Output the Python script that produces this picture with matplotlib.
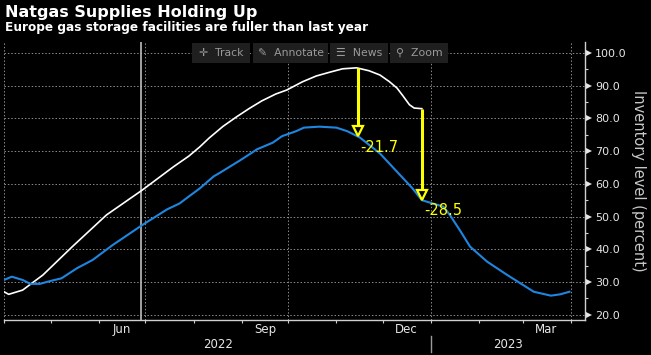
import matplotlib
matplotlib.use("Agg")
import matplotlib.pyplot as plt
import matplotlib.dates as mdates
import matplotlib.transforms as mtrans
from matplotlib.patches import Rectangle
import numpy as np

# ---------------- data ----------------
title = "Natgas Supplies Holding Up"
subtitle = "Europe gas storage facilities are fuller than last year"
y_label = "Inventory level (percent)"

white_dates = ["2022-04-01", "2022-04-04", "2022-04-13", "2022-04-26", "2022-05-15",
               "2022-06-06", "2022-06-29", "2022-07-19", "2022-07-29", "2022-08-05",
               "2022-08-11", "2022-08-20", "2022-08-29", "2022-09-06", "2022-09-14",
               "2022-09-23", "2022-09-30", "2022-10-10", "2022-10-19", "2022-10-28",
               "2022-11-05", "2022-11-14", "2022-11-22", "2022-11-29", "2022-12-05",
               "2022-12-10", "2022-12-14", "2022-12-18", "2022-12-21", "2022-12-26"]
white_values = [27.0, 26.2, 27.5, 32.1, 40.8,
                50.5, 58.1, 65.2, 68.5, 71.3,
                74.0, 77.6, 80.6, 83.1, 85.4,
                87.5, 88.7, 91.2, 93.0, 94.2,
                95.2, 95.5, 94.6, 93.3, 91.3,
                89.3, 86.8, 84.2, 83.2, 83.0]

blue_dates = ["2022-04-01", "2022-04-06", "2022-04-13", "2022-04-18", "2022-04-24",
              "2022-05-01", "2022-05-08", "2022-05-18", "2022-05-28", "2022-06-10",
              "2022-06-29", "2022-07-15", "2022-07-23", "2022-07-30", "2022-08-05",
              "2022-08-14", "2022-08-18", "2022-08-31", "2022-09-11", "2022-09-21",
              "2022-09-27", "2022-10-06", "2022-10-11", "2022-10-21", "2022-11-01",
              "2022-11-08", "2022-11-16", "2022-11-29", "2022-12-10", "2022-12-20",
              "2022-12-26", "2023-01-02", "2023-01-09", "2023-01-13", "2023-01-20",
              "2023-01-26", "2023-02-06", "2023-02-19", "2023-03-08", "2023-03-19",
              "2023-03-25", "2023-03-31"]
blue_values = [30.6, 31.6, 30.6, 29.4, 29.4,
               30.3, 31.1, 34.2, 36.7, 41.3,
               47.4, 52.2, 54.0, 56.5, 58.6,
               62.3, 63.4, 67.2, 70.6, 72.6,
               74.6, 76.1, 77.2, 77.5, 77.2,
               76.1, 74.2, 69.3, 63.7, 58.6,
               55.0, 54.0, 53.0, 50.5, 45.4,
               40.8, 36.2, 32.1, 27.0, 25.8,
               26.2, 27.0]

annot_dates = ["2022-11-15", "2022-12-26"]
annot_labels = ["-21.7", "-28.5"]

cursor_date = "2022-06-28"
x_start, x_end = "2022-04-01", "2023-04-10"
grid_dates = ["2022-04-01", "2022-07-01", "2022-10-01", "2023-01-01", "2023-04-01"]
y_ticks = [20, 30, 40, 50, 60, 70, 80, 90, 100]
y_minor = [25, 35, 45, 55, 65, 75, 85, 95]
month_label_dates = ["2022-06-16", "2022-09-16", "2022-12-16", "2023-03-16"]
month_labels = ["Jun", "Sep", "Dec", "Mar"]
year_labels = ["2022", "2023"]
year_break = "2023-01-01"
toolbar_items = ["\u271B  Track", "\u270E  Annotate", "\u2630  News", "\u26B2  Zoom"]

# ---------------- style ----------------
BG = "#000000"
WHITE = "#ffffff"
BLUE = "#1f86e0"
YELLOW = "#ffff00"
GRID = "#8c8c8c"
TXT = "#e6e6e6"

plt.rcParams["font.family"] = ["DejaVu Sans"]

W, H = 651, 355
fig = plt.figure(figsize=(W / 100, H / 100), dpi=100, facecolor=BG)
ax = fig.add_axes([4 / W, 35 / H, 581 / W, 278 / H], facecolor=BG)

wx = mdates.datestr2num(white_dates)
bx = mdates.datestr2num(blue_dates)
x0, x1 = mdates.datestr2num([x_start, x_end])

ax.set_xlim(x0, x1)
ax.set_ylim(18.35, 103.4)

# grid
for v in y_ticks:
    ax.axhline(v, color=GRID, lw=0.7, ls=(0, (1.5, 2.0)), zorder=1)
for d in mdates.datestr2num(grid_dates):
    ax.axvline(d, color=GRID, lw=0.7, ls=(0, (1.5, 2.0)), zorder=1)

# cursor line
ax.axvline(mdates.datestr2num(cursor_date), color="#bdbdbd", lw=1.2, zorder=2)

# series
ax.plot(wx, white_values, color=WHITE, lw=1.2, zorder=3)
ax.plot(bx, blue_values, color=BLUE, lw=1.5, zorder=3)

# annotations (arrows from white to blue)
ms = 7.5
ax_d = mdates.datestr2num(annot_dates)
for d, lab in zip(ax_d, annot_labels):
    yw = np.interp(d, wx, white_values)
    yb = np.interp(d, bx, blue_values)
    tr_head = mtrans.offset_copy(ax.transData, fig=fig, x=0, y=ms / 2, units="points")
    y_top_disp = ax.transData.transform((d, yb))[1] + ms * 100 / 72
    y_top = ax.transData.inverted().transform((0, y_top_disp))[1]
    ax.plot([d, d], [yw, y_top], color=YELLOW, lw=2.2, solid_capstyle="butt", zorder=5)
    ax.plot([d], [yb], marker="v", ms=ms, mfc=BG, mec=YELLOW, mew=1.6,
            transform=tr_head, zorder=6, clip_on=False)
    ax.annotate(lab, xy=(d, yb), xytext=(1.5, -7.5), textcoords="offset points",
                color=YELLOW, fontsize=10.5, ha="left", va="center", zorder=7)

# spines
for s in ["left", "top"]:
    ax.spines[s].set_visible(False)
for s in ["bottom", "right"]:
    ax.spines[s].set_color("#d0d0d0")
    ax.spines[s].set_linewidth(1.0)

# x ticks: month boundaries, labels mid-month
ax.xaxis.set_major_locator(mdates.MonthLocator())
ax.xaxis.set_major_formatter(plt.NullFormatter())
ax.tick_params(axis="x", which="major", direction="out", length=2.5, width=0.8,
               color="#d0d0d0")
ax.set_xticks(mdates.datestr2num(month_label_dates), minor=True)
ax.set_xticklabels(month_labels, minor=True)
ax.tick_params(axis="x", which="minor", length=0, pad=2.3, labelsize=8.5,
               labelcolor=TXT)

# year labels & separator
yb_pos = mdates.datestr2num(year_break)
trx = mtrans.blended_transform_factory(ax.transData, fig.transFigure)
ax.text((x0 + yb_pos) / 2, 1 - 345 / H, year_labels[0], transform=trx, ha="center",
        va="center", color=TXT, fontsize=8.5)
ax.text((yb_pos + x1) / 2, 1 - 345 / H, year_labels[1], transform=trx, ha="center",
        va="center", color=TXT, fontsize=8.5)
ax.plot([yb_pos, yb_pos], [1 - 336 / H, 1 - 352 / H], transform=trx, color="#9a9a9a",
        lw=1.0, clip_on=False)

# y axis on right
ax.yaxis.tick_right()
ax.yaxis.set_label_position("right")
ax.set_yticks(y_ticks)
ax.set_yticklabels([f"{v:.1f}" for v in y_ticks])
ax.set_yticks(y_minor, minor=True)
ax.tick_params(axis="y", which="major", length=0, pad=7.2, labelsize=8.0,
               labelcolor=TXT)
ax.tick_params(axis="y", which="minor", direction="out", length=2.5, width=0.8,
               color="#d0d0d0")
tri_tr = mtrans.offset_copy(ax.get_yaxis_transform(), fig=fig, x=3.0, y=0, units="points")
ax.plot([1.0] * len(y_ticks), y_ticks, ls="none", marker=">", ms=5, color="#e6e6e6",
        mew=0, transform=tri_tr, clip_on=False)
ax.set_ylabel(y_label, rotation=270, color="#c8c8c8", fontsize=10.5, labelpad=14)

# titles
fig.text(5 / W, 1 - 17 / H, title, color=WHITE, fontsize=11.5, fontweight="bold",
         va="baseline", ha="left")
fig.text(5 / W, 1 - 31.5 / H, subtitle, color=WHITE, fontsize=8.7, fontweight="bold",
         va="baseline", ha="left")

# toolbar overlay
boxes = [(192, 250), (253, 328), (330, 388), (390, 448)]
for (bx0, bx1), item in zip(boxes, toolbar_items):
    fig.patches.append(Rectangle((bx0 / W, 1 - 63 / H), (bx1 - bx0) / W, 20 / H,
                                 transform=fig.transFigure, facecolor="#1f1f1f",
                                 edgecolor="none", zorder=10))
    fig.text((bx0 + bx1) / 2 / W, 1 - 53 / H, item, color="#9a9a9a", fontsize=7.8,
             ha="center", va="center", zorder=11)

fig.savefig("out.png", dpi=100, facecolor=BG)
